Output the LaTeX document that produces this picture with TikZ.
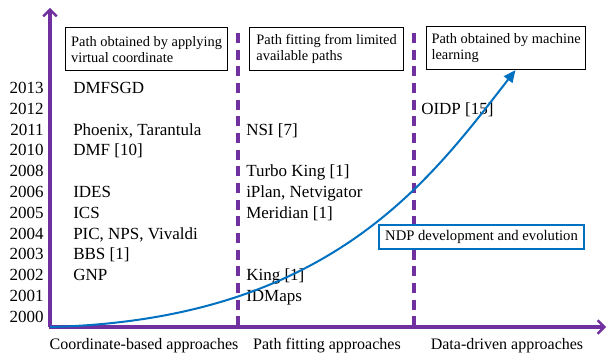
\documentclass[tikz,border=0pt]{standalone}
\usepackage{fontspec}
\setmainfont{Liberation Serif}
\usetikzlibrary{arrows.meta, positioning}
\definecolor{axispurple}{HTML}{7030A0}
\definecolor{trendblue}{HTML}{0070C0}

\begin{document}
\begin{tikzpicture}[
        x=0.75pt, y=-0.75pt,
        %% Grid: one pixel of the 608x356 frame per unit; rows every 20.8 units.
        axis/.style={axispurple, line width=2.6pt, -{Straight Barb[length=5pt, width=10pt, line width=1.8pt]}},
        divider/.style={axispurple, line width=2.3pt, dash pattern=on 7.5pt off 5pt},
        catbox/.style={rectangle, draw=black, line width=0.9pt, anchor=north west, align=left, inner sep=0pt, minimum height=32.25pt, font=\fontsize{10.8}{12}\selectfont},
        yearlabel/.style={anchor=east, inner sep=0pt, text height=8.4pt, text depth=0pt, font=\fontsize{12.75}{15}\selectfont},
        entry/.style={yearlabel, anchor=west},
        phaselabel/.style={inner sep=0pt, text height=8pt, text depth=0pt, font=\fontsize{12}{14}\selectfont},
        trend/.style={trendblue, line width=1.5pt, -{Triangle[length=9pt, width=8pt]}},
        trendbox/.style={rectangle, draw=trendblue, line width=1.2pt, fill=white, inner sep=0pt, minimum width=153.75pt, minimum height=18pt, font=\fontsize{11}{13}\selectfont}
    ]
    \useasboundingbox (0,0) rectangle (608,356);

    %% --- Axes and phase dividers ---
    \coordinate (origin) at (50,327);
    \coordinate (ytip)   at (50,8);
    \coordinate (xtip)   at (606,327);
    \coordinate (div1top) at (238,33);
    \coordinate (div2top) at (414,33);
    \draw[axis] (origin) -- (ytip);
    \draw[axis] ([xshift=-1pt]origin) -- (xtip);
    \draw[divider] (div1top) -- (div1top |- origin);
    \draw[divider] (div2top) -- (div2top |- origin);

    %% --- Category boxes (top row) ---
    \node[catbox, minimum width=121.5pt] (cat1) at (65,27) {Path obtained by applying\\virtual coordinate};
    \node[catbox, minimum width=115.5pt] (cat2) at (249,27) {Path fitting from limited\\available paths};
    \node[catbox, minimum width=119.25pt] (cat3) at (426,26) {Path obtained by machine\\learning};

    %% --- Years (rows 0..11) ---
    \foreach \yr [count=\r from 0] in {2013,2012,2011,2010,2008,2006,2005,2004,2003,2002,2001,2000}
        \node[yearlabel] (y\yr) at (44, 88+20.8*\r) {\yr};

    %% --- Column starts ---
    \coordinate (col1) at (73,0);
    \coordinate (col2) at (246,0);
    \coordinate (col3) at (421,0);

    %% --- Coordinate-based column ---
    \node[entry] (dmfsgd)  at (col1 |- y2013) {DMFSGD};
    \node[entry] (phoenix) at (col1 |- y2011) {Phoenix, Tarantula};
    \node[entry] (dmf)     at (col1 |- y2010) {DMF [10]};
    \node[entry] (ides)    at (col1 |- y2006) {IDES};
    \node[entry] (ics)     at (col1 |- y2005) {ICS};
    \node[entry] (pic)     at (col1 |- y2004) {PIC, NPS, Vivaldi};
    \node[entry] (bbs)     at (col1 |- y2003) {BBS [1]};
    \node[entry] (gnp)     at (col1 |- y2002) {GNP};

    %% --- Path fitting column ---
    \node[entry] (nsi)       at (col2 |- y2011) {NSI [7]};
    \node[entry] (turboking) at (col2 |- y2008) {Turbo King [1]};
    \node[entry] (iplan)     at (col2 |- y2006) {iPlan, Netvigator};
    \node[entry] (meridian)  at (col2 |- y2005) {Meridian [1]};
    \node[entry] (king)      at (col2 |- y2002) {King [1]};
    \node[entry] (idmaps)    at (col2 |- y2001) {IDMaps};

    %% --- Data-driven column ---
    \node[entry] (oidp) at (col3 |- y2012) {OIDP [15]};

    %% --- Phase labels below the x-axis ---
    \node[phaselabel] (phase1) at (144,344) {Coordinate-based approaches};
    \node[phaselabel] (phase2) at (327,344) {Path fitting approaches};
    \node[phaselabel] (phase3) at (507,344) {Data-driven approaches};

    %% --- Evolution curve and its label ---
    \node[trendbox] (ndp) at (481.5,237) {NDP development and evolution};
    \draw[trend] (origin) .. controls (330,320) and (430,180) .. ([xshift=7pt]cat3.south);
\end{tikzpicture}
\end{document}
